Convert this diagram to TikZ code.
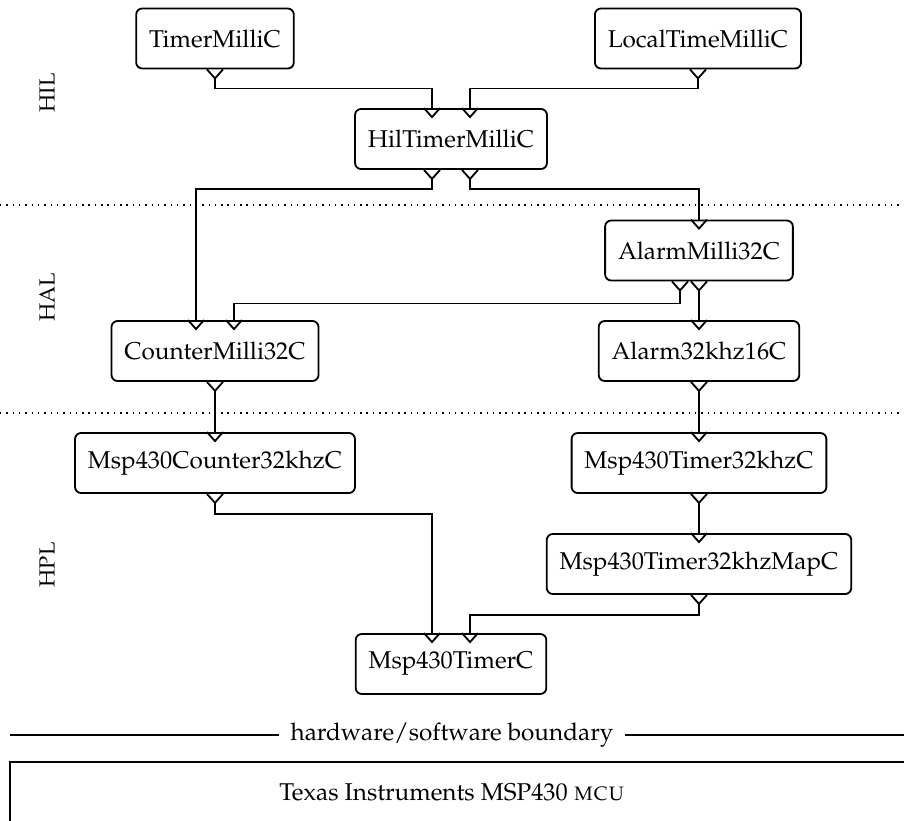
\documentclass[tikz,border=0pt]{standalone}
\usepackage[T1]{fontenc}
\usepackage{mathpazo}
\usetikzlibrary{calc}

\tikzset{
  comp/.style={draw, line width=0.75pt, rounded corners=2.5pt, minimum height=24.7pt, inner xsep=5.3pt},
  port/.pic={
    \draw[line width=0.75pt] (-8,0) -- (0,9) -- (8,0);
    \coordinate (-base) at (0,0);
    \coordinate (-tip) at (0,9);
  },
  wire/.style={line width=0.75pt},
  layer/.style={rotate=90, font=\small},
}

\begin{document}
\begin{tikzpicture}[x=0.4115pt, y=-0.4115pt]
    \useasboundingbox (0,0) rectangle (904,821);
    %\node (name) at (x,y) [comp] {component};
    \node[comp] (timer) at (215,38.5) {TimerMilliC};
    \node[comp] (local) at (698,38.5) {LocalTimeMilliC};
    \node[comp] (hil) at (451,139) {HilTimerMilliC};
    \node[comp] (alarmmilli) at (699,250.5) {AlarmMilli32C};
    \node[comp] (counter) at (215,351) {CounterMilli32C};
    \node[comp] (alarm) at (699,351) {Alarm32khz16C};
    \node[comp] (mspcounter) at (215,463) {Msp430Counter32khzC};
    \node[comp] (msptimer32) at (699,463) {Msp430Timer32khzC};
    \node[comp] (mspmap) at (699,564) {Msp430Timer32khzMapC};
    \node[comp] (msptimer) at (451,664) {Msp430TimerC};
    % interfaces
    \pic (timerO) at (timer.south) {port};
    \pic (localO) at (local.south) {port};
    \pic (hilI1) at ($(hil.north)+(-19,0)$) {port};
    \pic (hilI2) at ($(hil.north)+(19,0)$) {port};
    \pic (hilO1) at ($(hil.south)+(-19,0)$) {port};
    \pic (hilO2) at ($(hil.south)+(19,0)$) {port};
    \pic (alarmmilliI) at (alarmmilli.north) {port};
    \pic (alarmmilliO1) at ($(alarmmilli.south)+(-19,0)$) {port};
    \pic (alarmmilliO2) at (alarmmilli.south) {port};
    \pic (counterI1) at ($(counter.north)+(-19,0)$) {port};
    \pic (counterI2) at ($(counter.north)+(19,0)$) {port};
    \pic (counterO) at (counter.south) {port};
    \pic (alarmI) at (alarm.north) {port};
    \pic (alarmO) at (alarm.south) {port};
    \pic (mspcounterI) at (mspcounter.north) {port};
    \pic (mspcounterO) at (mspcounter.south) {port};
    \pic (msptimer32I) at (msptimer32.north) {port};
    \pic (msptimer32O) at (msptimer32.south) {port};
    \pic (mspmapI) at (mspmap.north) {port};
    \pic (mspmapO) at (mspmap.south) {port};
    \pic (msptimerI1) at ($(msptimer.north)+(-19,0)$) {port};
    \pic (msptimerI2) at ($(msptimer.north)+(19,0)$) {port};
    % wiring
    \draw[wire] (timerO-tip) -- ++(0,10) -| (hilI1-base)
    (localO-tip) -- ++(0,10) -| (hilI2-base)
    (hilO1-tip) -- ++(0,10) -| (counterI1-base)
    (hilO2-tip) -- ++(0,10) -| (alarmmilliI-base)
    (alarmmilliO1-tip) -- ++(0,13) -| (counterI2-base)
    (alarmmilliO2-tip) -- (alarmI-base)
    (counterO-tip) -- (mspcounterI-base)
    (alarmO-tip) -- (msptimer32I-base)
    (msptimer32O-tip) -- (mspmapI-base)
    (mspcounterO-tip) -- ++(0,11) -| (msptimerI1-base)
    (mspmapO-tip) -- ++(0,11) -| (msptimerI2-base);
    % layers
    \draw[dotted, semithick] (0,205) -- (904,205);
    \draw[dotted, semithick] (0,413) -- (904,413);
    \node[layer] (hillabel) at (47,93) {HIL};
    \node[layer] (hallabel) at (47,297) {HAL};
    \node[layer] (hpllabel) at (47,565) {HPL};
    % hardware
    \node[inner xsep=4.5pt] (hw) at (452,735) {hardware/software boundary};
    \coordinate (hwl) at (10,735);
    \coordinate (hwr) at (904,735);
    \draw[thick] (hwl) -- (hw.west) (hw.east) -- (hwr);
    \node (mcu) at (452,792) {Texas Instruments MSP430 \textsc{mcu}};
    \draw[thick] (904,762) -| (10,821);
  \end{tikzpicture}
\end{document}
